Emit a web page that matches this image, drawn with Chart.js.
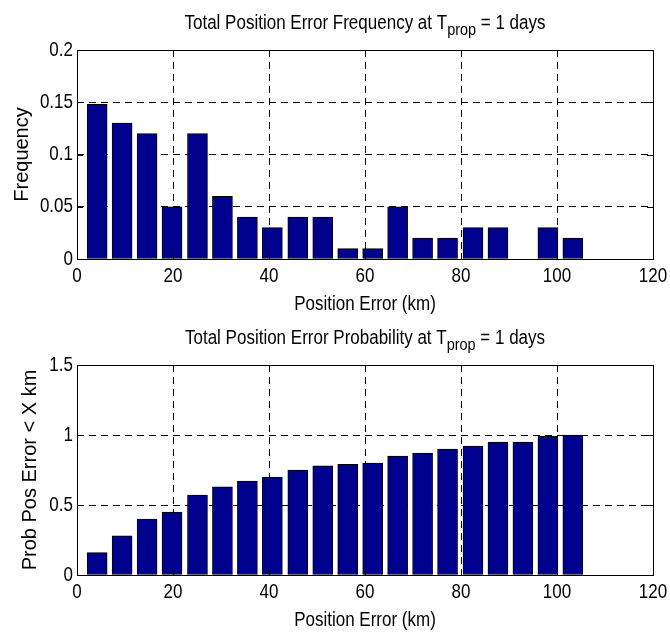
<!DOCTYPE html>
<html>
<head>
<meta charset="utf-8">
<script src="https://cdn.jsdelivr.net/npm/chart.js@4.4.1/dist/chart.umd.min.js"></script>
<style>
  html, body { margin: 0; padding: 0; background: #fff; }
  canvas { display: block; }
</style>
</head>
<body>
<canvas id="freqChart" width="670" height="318"></canvas>
<canvas id="probChart" width="670" height="318"></canvas>
<script>
// hist bin centres (km)
const binCenters = [4.2, 9.4, 14.6, 19.8, 25.1, 30.3, 35.5, 40.7, 46.0, 51.2, 56.4, 61.6, 66.8, 72.0, 77.2, 82.5, 87.7, 92.9, 98.1, 103.3];
const frequency = [0.148, 0.13, 0.12, 0.05, 0.12, 0.06, 0.04, 0.03, 0.04, 0.04, 0.01, 0.01, 0.05, 0.02, 0.02, 0.03, 0.03, 0, 0.03, 0.02];
const probability = [0.16, 0.28, 0.40, 0.45, 0.57, 0.63, 0.67, 0.70, 0.75, 0.78, 0.79, 0.80, 0.85, 0.87, 0.90, 0.92, 0.95, 0.95, 0.99, 1.0];
const xTicks = [0, 20, 40, 60, 80, 100, 120];
const freqTicks = [0, 0.05, 0.1, 0.15, 0.2];
const probTicks = [0, 0.5, 1, 1.5];

const FONT = '"Liberation Sans", Arial, sans-serif';
const FSIZE = 20;
// the original figure was squeezed sideways, so horizontal text is drawn narrower
const SQUEEZE = 0.85;
const fillText0 = CanvasRenderingContext2D.prototype.fillText;
CanvasRenderingContext2D.prototype.fillText = function (text, x, y, maxWidth) {
  if (this.getTransform().b === 0) {
    const w = this.measureText(text).width * SQUEEZE;
    maxWidth = maxWidth === undefined ? w : Math.min(maxWidth, w);
  }
  return maxWidth === undefined ? fillText0.call(this, text, x, y) : fillText0.call(this, text, x, y, maxWidth);
};

Chart.defaults.font.family = FONT;
Chart.defaults.font.size = FSIZE;
Chart.defaults.color = '#000';

// title with the T_prop subscript
const matlabTitle = {
  id: 'matlabTitle',
  afterDraw(chart, args, opts) {
    const {ctx, chartArea: {left, right, top}} = chart;
    const big = `${FSIZE}px ${FONT}`;
    const small = `${Math.round(FSIZE * 0.85)}px ${FONT}`;
    ctx.save();
    ctx.fillStyle = '#000';
    ctx.textAlign = 'left';
    ctx.textBaseline = 'alphabetic';
    ctx.font = big;
    const w1 = ctx.measureText(opts.before).width * SQUEEZE;
    const w3 = ctx.measureText(opts.after).width * SQUEEZE;
    ctx.font = small;
    const w2 = ctx.measureText(opts.sub).width * SQUEEZE;
    let x = (left + right) / 2 - (w1 + w2 + w3) / 2;
    const y = top - 21;
    ctx.font = big;
    ctx.fillText(opts.before, x, y);
    x += w1;
    ctx.font = small;
    ctx.fillText(opts.sub, x, y + 6);
    x += w2;
    ctx.font = big;
    ctx.fillText(opts.after, x, y);
    ctx.restore();
  }
};

// axes box plus the short inward tick marks on all four sides
const matlabBox = {
  id: 'matlabBox',
  afterDraw(chart) {
    const {ctx, chartArea: {left, right, top, bottom}, scales: {x, y}} = chart;
    ctx.save();
    ctx.strokeStyle = '#000';
    ctx.lineWidth = 1;
    ctx.setLineDash([]);
    ctx.strokeRect(left + 0.5, top + 0.5, right - left, bottom - top);
    ctx.beginPath();
    x.ticks.forEach(t => {
      const px = Math.round(x.getPixelForValue(t.value)) + 0.5;
      ctx.moveTo(px, bottom); ctx.lineTo(px, bottom - 6);
      ctx.moveTo(px, top); ctx.lineTo(px, top + 6);
    });
    y.ticks.forEach(t => {
      const py = Math.round(y.getPixelForValue(t.value)) + 0.5;
      ctx.moveTo(left, py); ctx.lineTo(left + 6, py);
      ctx.moveTo(right, py); ctx.lineTo(right - 6, py);
    });
    ctx.stroke();
    ctx.restore();
  }
};

function makeChart(id, values, yTicks, yMax, yTitle, yTitlePad, title, padTop, xHeight, xTitlePad) {
  return new Chart(document.getElementById(id), {
    type: 'bar',
    data: {
      datasets: [{
        data: binCenters.map((c, i) => ({x: c, y: values[i]})),
        backgroundColor: '#00008f',
        borderColor: '#000',
        borderWidth: 1,
        borderSkipped: false,
        barThickness: 20
      }]
    },
    options: {
      responsive: false,
      animation: false,
      devicePixelRatio: 1,
      layout: {padding: {top: padTop, right: 17, left: 0, bottom: 0}},
      plugins: {legend: {display: false}, tooltip: {enabled: false}, matlabTitle: title},
      scales: {
        x: {
          type: 'linear', min: 0, max: 120, offset: false,
          afterBuildTicks: s => { s.ticks = xTicks.map(v => ({value: v})); },
          afterFit: s => { s.height = xHeight; s.paddingLeft = 0; s.paddingRight = 0; },
          ticks: {padding: 5, autoSkip: false, maxRotation: 0, callback: v => String(v)},
          grid: {color: '#000', lineWidth: 1, drawTicks: false, offset: false},
          border: {display: false, dash: [7, 5]},
          title: {display: true, text: 'Position Error (km)', padding: {top: 0, bottom: xTitlePad}}
        },
        y: {
          min: 0, max: yMax,
          afterBuildTicks: s => { s.ticks = yTicks.map(v => ({value: v})); },
          afterFit: s => { s.width = 77; s.paddingTop = 0; s.paddingBottom = 0; },
          ticks: {padding: 4, callback: v => String(v)},
          grid: {color: '#000', lineWidth: 1, drawTicks: false},
          border: {display: false, dash: [7, 5]},
          title: {display: true, text: yTitle, padding: {top: yTitlePad, bottom: 0}}
        }
      }
    },
    plugins: [matlabTitle, matlabBox]
  });
}

makeChart('freqChart', frequency, freqTicks, 0.2, 'Frequency', 10,
  {before: 'Total Position Error Frequency at T', sub: 'prop', after: ' = 1 days'}, 50, 59, 2);
makeChart('probChart', probability, probTicks, 1.5, 'Prob Pos Error < X km', 18,
  {before: 'Total Position Error Probability at T', sub: 'prop', after: ' = 1 days'}, 47, 61, 4);
</script>
</body>
</html>
